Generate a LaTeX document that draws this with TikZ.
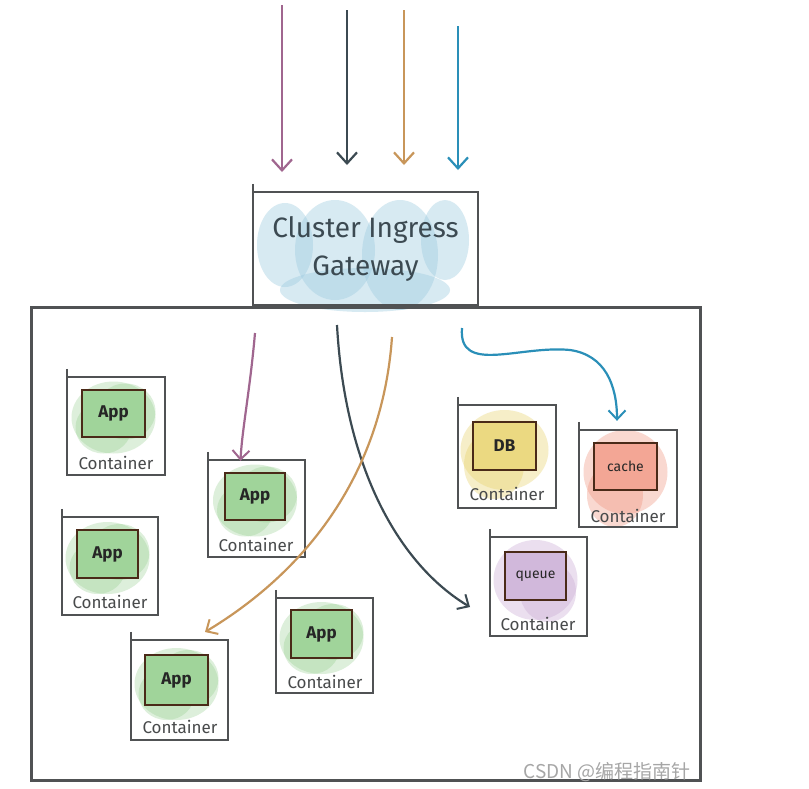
\documentclass[tikz,border=0pt]{standalone}
\usepackage{fontspec}
\setmainfont{Fira Sans}
\newfontfamily\cjkf{Noto Sans CJK SC}
\usetikzlibrary{arrows.meta}
\definecolor{boxgray}{HTML}{505254}
\definecolor{inbrown}{HTML}{4A2A18}
\definecolor{apurple}{HTML}{A0668F}
\definecolor{adark}{HTML}{3C4A52}
\definecolor{atan}{HTML}{C8965A}
\definecolor{ablue}{HTML}{2A8FB8}
\definecolor{wgreen}{HTML}{8FCC88}
\definecolor{wyellow}{HTML}{E6CF62}
\definecolor{wred}{HTML}{F0907A}
\definecolor{wpurple}{HTML}{C6A6D2}
\definecolor{wblue}{HTML}{9CCBE0}
\begin{document}
\begin{tikzpicture}[x=1pt,y=-1pt,
  boxline/.style={draw=boxgray,line width=2.4pt},
  outerbox/.style={draw=none,inner sep=0pt},
  innerbox/.style={draw=inbrown,line width=2pt,inner sep=0pt,font=\fontsize{17}{19}\selectfont\bfseries,text=black!85},
  lbl/.style={font=\fontsize{17}{19}\selectfont,text=boxgray!90!black},
  arr/.style={line width=2.4pt,-{Straight Barb[length=11pt,width=20pt,line width=2.2pt]}},
  arrs/.style={line width=2.2pt,-{Straight Barb[length=9pt,width=17pt,line width=2pt]}}
]
\useasboundingbox (0,0) rectangle (809,788);
\fill[white] (0,0) rectangle (809,788);

% ---------- washes ----------
\begin{scope}[opacity=0.4]
 \fill[wblue] (285,245) ellipse (28 and 42);
 \fill[wblue] (335,250) ellipse (40 and 50);
 \fill[wblue] (400,255) ellipse (38 and 55);
 \fill[wblue] (445,240) ellipse (24 and 40);
 \fill[wblue] (365,290) ellipse (85 and 22);
\end{scope}
% green washes
\foreach \cx/\cy in {113.5/413.5, 255/496.5, 107.5/554, 176.5/680, 321.5/634}{
 \begin{scope}[opacity=0.3]
  \fill[wgreen] (\cx,\cy+4) ellipse (42 and 36);
  \fill[wgreen] (\cx-10,\cy+14) ellipse (28 and 26);
  \fill[wgreen] (\cx+12,\cy-2) ellipse (30 and 28);
 \end{scope}
}
\begin{scope}[opacity=0.35]
 \fill[wyellow] (504.5,450) ellipse (44 and 40);
 \fill[wyellow] (494,465) ellipse (30 and 34);
 \fill[wred] (625.5,472) ellipse (42 and 42);
 \fill[wred] (615,495) ellipse (28 and 32);
 \fill[wpurple] (535.5,580) ellipse (42 and 40);
 \fill[wpurple] (548,592) ellipse (28 and 30);
\end{scope}

% ---------- cluster and gateway ----------
\node[outerbox,minimum width=668pt,minimum height=472pt] (cl) at (366,544) {};
\draw[boxline,line width=2.8pt] (cl.north west) rectangle (cl.south east);

\node[outerbox,minimum width=225pt,minimum height=113pt,align=center,
  font=\fontsize{28}{38}\selectfont,text=adark] (gw) at (365.5,248.5) {Cluster Ingress\\Gateway};
\draw[boxline] ([yshift=8pt]gw.north west) -- (gw.south west) -- (gw.south east) -- (gw.north east) -- (gw.north west);

% ---------- containers ----------
\newcommand\ctr[9]{%
 % #1 name, #2 outer center, #3 w, #4 h, #5 inner center, #6 iw, #7 ih, #8 text, #9 label pos
 \node[outerbox,minimum width=#3pt,minimum height=#4pt] (#1) at (#2) {};
 \draw[boxline] ([yshift=8pt]#1.north west) -- (#1.south west) -- (#1.south east) -- (#1.north east) -- (#1.north west);
 \node[innerbox,minimum width=#6pt,minimum height=#7pt] (#1i) at (#5) {#8};
 \node[lbl] (#1l) at (#9) {Container};
}
\tikzset{innerbox/.append style={fill=wgreen!85}}
\ctr{a1}{116,426}{98}{98}{113.5,413.5}{63}{47}{App}{116,463}
\ctr{a2}{256.5,508.5}{97}{97}{255,496.5}{60}{47}{App}{256,545}
\ctr{a3}{110,566}{96}{98}{107.5,554}{61}{48}{App}{110,602}
\ctr{a4}{179.5,690}{97}{100}{176.5,680}{63}{50}{App}{180,727}
\ctr{a5}{324.5,645.5}{97}{95}{321.5,634}{61}{48}{App}{325,682}
\tikzset{innerbox/.append style={fill=wyellow!80}}
\ctr{db}{507,456.5}{98}{103}{504.5,446}{63}{48}{DB}{507,494}
\tikzset{innerbox/.append style={fill=wred!80}}
\ctr{ca}{628,478.5}{98}{97}{625.5,466.5}{63}{47}{\normalfont\fontsize{14}{16}\selectfont cache}{628,516}
\tikzset{innerbox/.append style={fill=wpurple!80}}
\ctr{qu}{538.5,586.5}{97}{99}{535.5,576}{61}{48}{\normalfont\fontsize{14}{16}\selectfont queue}{538,624}

% ---------- top arrows ----------
\coordinate (t1s) at (282,5);   \coordinate (t1e) at (282,172);
\coordinate (t2s) at (347,10);  \coordinate (t2e) at (347,165);
\coordinate (t3s) at (404,10);  \coordinate (t3e) at (404,165);
\coordinate (t4s) at (458,26);  \coordinate (t4e) at (458,170);
\draw[arr,apurple] (t1s) -- (t1e);
\draw[arr,adark] (t2s) -- (t2e);
\draw[arr,atan] (t3s) -- (t3e);
\draw[arr,ablue] (t4s) -- (t4e);

% ---------- inner arrows ----------
\coordinate (i1s) at (255,333);
\coordinate (i2s) at (337,325);
\coordinate (i2e) at (470,607);
\coordinate (i3s) at (392,337);
\coordinate (i3e) at (205,632);
\coordinate (i4s) at (462,328);
\draw[arrs,apurple] (i1s) .. controls (250,390) and (242,430) .. ([xshift=-16pt,yshift=-1pt]a2.north);
\draw[arrs,adark] (i2s) .. controls (345,470) and (400,565) .. (i2e);
\draw[arrs,atan] (i3s) .. controls (382,480) and (300,575) .. (i3e);
\draw[arrs,ablue] (i4s) .. controls (458,375) and (520,345) .. (570,350)
  .. controls (605,355) and (617,385) .. ([xshift=-11pt,yshift=9pt]ca.north);

% ---------- watermark ----------
\node[font=\cjkf\fontsize{19}{21}\selectfont,text=black!35] (wm) at (607,772) {CSDN @编程指南针};
\end{tikzpicture}
\end{document}
